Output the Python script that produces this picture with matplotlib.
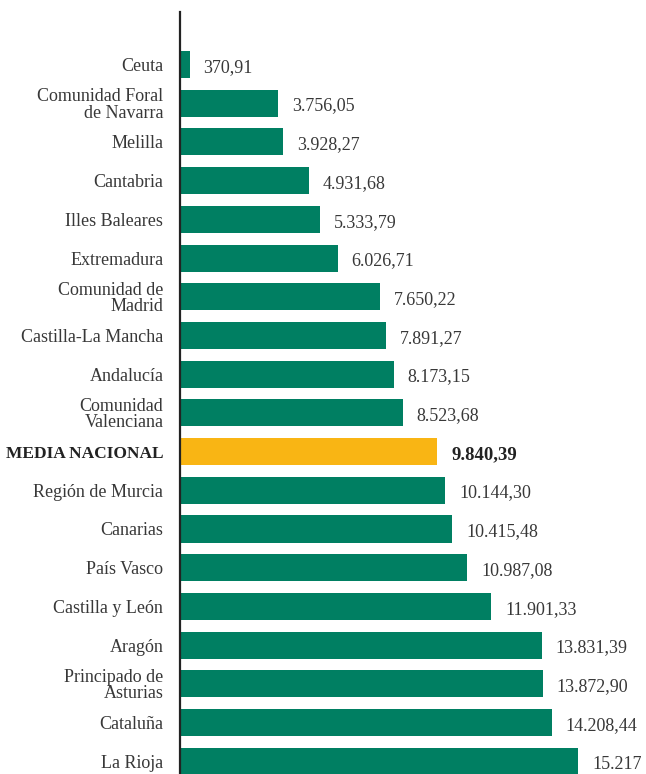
import matplotlib.pyplot as plt

# Regions and values (euros), top to bottom
regiones = ['Ceuta', 'Comunidad Foral\nde Navarra', 'Melilla', 'Cantabria',
            'Illes Baleares', 'Extremadura', 'Comunidad de\nMadrid',
            'Castilla-La Mancha', 'Andalucía', 'Comunidad\nValenciana',
            'MEDIA NACIONAL', 'Región de Murcia', 'Canarias', 'País Vasco',
            'Castilla y León', 'Aragón', 'Principado de\nAsturias', 'Cataluña',
            'La Rioja']
valores = [370.91, 3756.05, 3928.27, 4931.68, 5333.79, 6026.71, 7650.22,
           7891.27, 8173.15, 8523.68, 9840.39, 10144.30, 10415.48, 10987.08,
           11901.33, 13831.39, 13872.90, 14208.44, 15217]
etiquetas = ['370,91', '3.756,05', '3.928,27', '4.931,68', '5.333,79',
             '6.026,71', '7.650,22', '7.891,27', '8.173,15', '8.523,68',
             '9.840,39', '10.144,30', '10.415,48', '10.987,08', '11.901,33',
             '13.831,39', '13.872,90', '14.208,44', '15.217']

verde = '#007F62'
amarillo = '#F9B514'
texto = '#383838'

plt.rcParams['font.family'] = ['Liberation Serif', 'DejaVu Serif']

fig = plt.figure(figsize=(6.46, 7.74), dpi=100)
ax = fig.add_axes([180 / 646, 0, 466 / 646, 762 / 774])

y = list(range(len(regiones)))
colores = [amarillo if r == 'MEDIA NACIONAL' else verde for r in regiones]
ax.barh(y, valores, height=0.7, color=colores, left=0)

ax.set_xlim(0, 17813)
ax.set_ylim(18.33, -1.357)

for i, (v, t, r) in enumerate(zip(valores, etiquetas, regiones)):
    media = r == 'MEDIA NACIONAL'
    ax.annotate(t, (v, i), xytext=(10, -2), textcoords='offset points',
                va='center', ha='left', fontsize=13.5 if media else 13,
                color='#222222' if media else texto,
                fontweight='bold' if media else 'normal')

ax.set_yticks(y)
ax.set_yticklabels(regiones, fontsize=13, color=texto, linespacing=0.95)
for lab in ax.get_yticklabels():
    if lab.get_text() == 'MEDIA NACIONAL':
        lab.set_fontweight('bold')
        lab.set_fontsize(12.5)
        lab.set_color('#222222')
ax.tick_params(axis='y', length=0, pad=12)
ax.set_xticks([])

for s in ['top', 'right', 'bottom']:
    ax.spines[s].set_visible(False)
ax.spines['left'].set_color('#222222')
ax.spines['left'].set_linewidth(1.6)

fig.savefig('out.png', dpi=100)
